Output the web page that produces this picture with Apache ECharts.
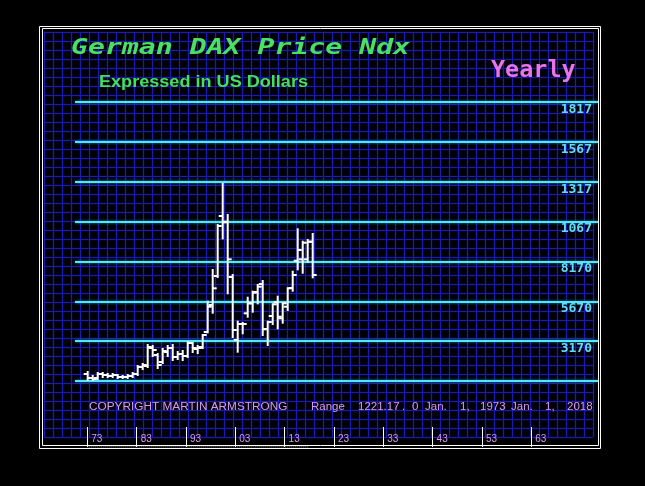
<!DOCTYPE html>
<html><head><meta charset="utf-8">
<script src="https://cdn.jsdelivr.net/npm/echarts@6/dist/echarts.min.js"></script>
<style>html,body{margin:0;padding:0;background:#000;}#c{width:645px;height:486px;}</style>
</head><body><div id="c"></div>
<script>
const years = [1973,1974,1975,1976,1977,1978,1979,1980,1981,1982,1983,1984,1985,1986,1987,1988,1989,1990,1991,1992,1993,1994,1995,1996,1997,1998,1999,2000,2001,2002,2003,2004,2005,2006,2007,2008,2009,2010,2011,2012,2013,2014,2015,2016,2017,2018];
const opens  = [1109,858,858,1109,1046,984,1046,921,921,984,1109,1548,1611,2740,2301,1862,2489,2740,2175,2363,2238,3053,2677,2802,3743,5437,7255,11019,10661,7193,3242,4245,4916,5543,6252,6754,3931,4747,5606,4602,5330,6503,8215,8303,8303,9407];
const highs  = [1234,984,1172,1172,1109,1109,1046,984,1046,1172,1611,1736,2928,2865,2363,2677,2865,2928,2489,2552,3116,3053,2865,3555,5644,7632,10454,13026,11081,7318,4389,4308,5895,6271,6691,6942,4389,5481,5957,5543,6484,7525,10185,9407,9513,9890];
const lows   = [733,733,795,921,921,921,858,858,858,921,1046,1423,1548,2238,1485,1799,2238,1988,2050,1988,2175,2489,2426,2740,3725,4954,7193,9620,6171,3430,2508,3662,4703,5016,5543,3555,2928,4245,3975,4327,5123,6334,7676,7463,8152,7174];
const closes = [858,795,1109,1046,984,1046,921,921,984,1109,1548,1674,2802,2614,1674,2552,2740,2175,2363,2238,3053,2740,2740,3555,5330,6484,10392,10624,8303,3869,4245,4245,5543,6208,6585,3913,4370,5481,4703,5543,6484,7318,8886,9344,9407,7318];

const levelMin = 670, levelMax = 18170, levelStep = 2500;
const levelLabels = {3170:'3170',5670:'5670',8170:'8170',10670:'1067',13170:'1317',15670:'1567',18170:'1817'};
const tickYears = [1973,1983,1993,2003,2013,2023,2033,2043,2053,2063];
const tickLabels = ['73','83','93','03','13','23','33','43','53','63'];
const rangeYears = [1973, 2018];

const titleText = 'German DAX Price Ndx';
const subTitleText = 'Expressed in US Dollars';
const periodText = 'Yearly';
const copyrightText = 'COPYRIGHT MARTIN ARMSTRONG';
const rangePieces = [['Range',311],['1221.17',358],['.',402],['0',412],['Jan.',425],['1,',460],['1973',480],['Jan.',511],['1,',545],['2018',567]];

const chart = echarts.init(document.getElementById('c'), null, {renderer:'canvas'});
const pink = '#d898f0';
const gridBlue = {color:'#1c1cb0', width:1, shadowBlur:2, shadowColor:'#10108a'};

const graphics = [
  {type:'rect', shape:{x:39.5,y:26.5,width:561,height:422}, style:{fill:null, stroke:'#fff', lineWidth:1}, z:100},
  {type:'rect', shape:{x:42.5,y:28.5,width:556,height:417}, style:{fill:null, stroke:'#fff', lineWidth:1}, z:100},
  {type:'text', x:71, y:48, scaleX:1.28, z:50, style:{text:titleText, fill:'#4ae060', font:'italic bold 22px "DejaVu Sans Mono"', textVerticalAlign:'middle'}},
  {type:'text', x:99, y:82.5, scaleX:1.13, z:50, style:{text:subTitleText, fill:'#44e05c', font:'bold 16px "Liberation Sans"', textVerticalAlign:'middle'}},
  {type:'text', x:491, y:71, scaleX:1.02, z:50, style:{text:periodText, fill:'#e874e8', font:'bold 23px "DejaVu Sans Mono"', textVerticalAlign:'middle'}},
  {type:'text', x:89, y:407, scaleX:1.18, z:50, style:{text:copyrightText, fill:pink, font:'10px "Liberation Sans"', textVerticalAlign:'middle'}}
];
rangePieces.forEach(p => graphics.push({type:'text', x:p[1], y:407, scaleX:1.15, z:50, style:{text:p[0], fill:pink, font:'10px "Liberation Sans"', textVerticalAlign:'middle'}}));

const option = {
  backgroundColor:'#000',
  animation:false,
  grid:[
    {left:44, width:549, top:32, height:405},
    {left:75, right:47, top:102, bottom:105},
    {left:75, right:47, top:427, bottom:39}
  ],
  xAxis:[
    {gridIndex:0, z:0, type:'value', min:0, max:549, interval:9, axisLine:{show:false}, axisTick:{show:false}, axisLabel:{show:false},
     splitLine:{show:true, lineStyle:gridBlue}},
    {gridIndex:1, z:1, type:'value', min:1970.46, max:2075.06, show:false, splitLine:{show:false}},
    {gridIndex:2, z:3, type:'value', min:1970.507, max:2076.53, splitLine:{show:false}, axisLine:{show:false},
     axisTick:{show:true, inside:true, length:20, customValues:tickYears, lineStyle:{color:'#fff', width:1}},
     axisLabel:{show:true, inside:true, customValues:tickYears, margin:3, align:'left', verticalAlign:'bottom', padding:[0,0,0,4],
       color:pink, fontFamily:'Liberation Sans', fontSize:10,
       formatter:(v)=>{const i=tickYears.indexOf(Math.round(v)); return i>=0?tickLabels[i]:'';}}}
  ],
  yAxis:[
    {gridIndex:0, z:0, type:'value', inverse:true, min:0, max:405, interval:9, axisLine:{show:false}, axisTick:{show:false}, axisLabel:{show:false},
     splitLine:{show:true, lineStyle:gridBlue}},
    {gridIndex:1, z:2, type:'value', position:'right', min:levelMin, max:levelMax, interval:levelStep,
     axisLine:{show:false}, axisTick:{show:false},
     axisLabel:{show:true, inside:true, margin:6, verticalAlign:'top', padding:[1,0,0,0], color:'#62dcf4', fontFamily:'DejaVu Sans Mono', fontWeight:'bold', fontSize:13,
       formatter:(v)=>levelLabels[Math.round(v)]||''},
     splitLine:{show:true, lineStyle:{color:'#4ee8f8', width:2, shadowBlur:3, shadowColor:'#1890b0'}}},
    {gridIndex:2, z:3, type:'value', min:0, max:1, show:false, splitLine:{show:false}}
  ],
  series:[
    {type:'custom', xAxisIndex:1, yAxisIndex:1, clip:false, z:10,
     data: years.map((y,i)=>[y, opens[i], highs[i], lows[i], closes[i]]),
     encode:{x:0, y:[1,2,3,4]},
     renderItem:(params, api)=>{
       const x=api.value(0);
       const pH=api.coord([x,api.value(2)]), pL=api.coord([x,api.value(3)]);
       const pO=api.coord([x,api.value(1)]), pC=api.coord([x,api.value(4)]);
       const st={stroke:'#fff', lineWidth:2};
       return {type:'group', children:[
         {type:'line', shape:{x1:pH[0],y1:pH[1]-1,x2:pL[0],y2:pL[1]+1}, style:st},
         {type:'line', shape:{x1:pO[0]-4,y1:pO[1],x2:pO[0],y2:pO[1]}, style:st},
         {type:'line', shape:{x1:pC[0],y1:pC[1],x2:pC[0]+4,y2:pC[1]}, style:st}
       ]};
     }},
    {type:'line', xAxisIndex:2, yAxisIndex:2, data: rangeYears.map(y=>[y,0]), symbol:'none', silent:true, z:5,
     lineStyle:{color:'#bbbbbb', width:1, type:[1,1]}}
  ],
  graphic: graphics
};
chart.setOption(option);
</script></body></html>
